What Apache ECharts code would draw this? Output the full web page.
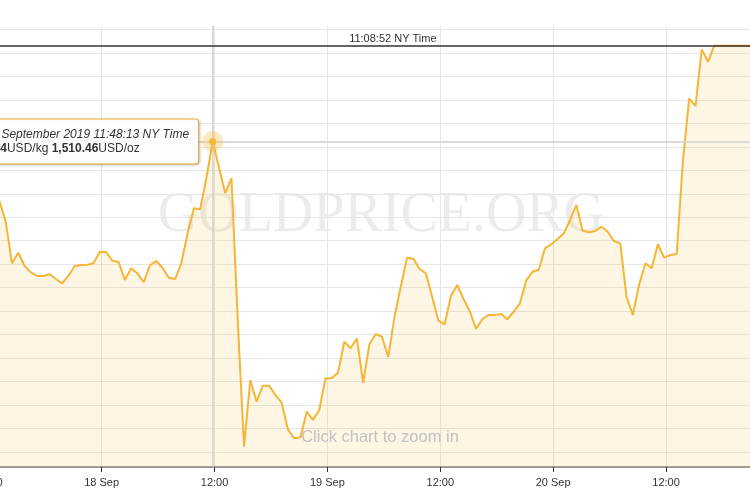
<!DOCTYPE html>
<html><head><meta charset="utf-8">
<script src="https://cdn.jsdelivr.net/npm/echarts@6/dist/echarts.min.js"></script>
<style>html,body{margin:0;padding:0;background:#fff}#c{width:750px;height:500px}</style>
</head><body><div id="c"></div>
<script>
// ---- data ----
const firstTime = '2019-09-17T13:08:00Z';   // time of first sample
const stepMinutes = 40;                      // sampling step
const axisOrigin = '2019-09-18T00:00:00Z';   // hour 0 of the x axis
const prices = [
  1505.39,1503.60,1500.08,1500.98,1499.87,1499.31,1499.00,1499.00,1499.14,1498.74,
  1498.37,1499.00,1499.85,1499.93,1499.96,1500.08,1501.07,1501.04,1500.30,1500.19,
  1498.66,1499.65,1499.23,1498.46,1499.91,1500.27,1499.70,1498.85,1498.74,1500.08,
  1502.63,1504.76,1504.68,1507.35,1510.46,
  1508.28,1506.04,1507.33,1495.25,1484.45,1490.13,1488.29,1489.65,1489.65,1488.86,
  1488.20,1485.93,1485.17,1485.25,1487.43,1486.73,1487.58,1490.28,1490.31,1490.76,
  1493.40,1492.84,1493.69,1489.90,1493.20,1494.05,1493.82,1492.09,1495.53,1498.08,
  1500.56,1500.47,1499.59,1499.23,1497.23,1495.19,1494.88,1497.32,1498.23,1497.04,
  1496.01,1494.48,1495.31,1495.67,1495.67,1495.76,1495.31,1495.95,1496.67,1498.60,
  1499.36,1499.53,1501.36,1501.70,1502.15,1502.63,1503.77,1505.05,1502.86,1502.72,
  1502.83,1503.20,1502.77,1501.98,1501.78,1497.23,1495.67,1498.23,1500.08,1499.65,
  1501.70,1500.56,1500.79,1500.87,1508.88,1514.14,1513.48,1518.31,1517.26,1518.62,
  1518.62,1518.62,1518.62,1518.62,1518.62,1518.62
];
const gridValues = [1484,1486,1488,1490,1492,1494,1496,1498,1500,1502,1504,1506,1508,1510,1512,1514,1516,1518,1520];
const xMinHour = -12, xMaxHour = 72, xStepHours = 12;
const yMin = 1482.72, yMax = 1520.30;
const peakIndex = 34;
const peakDateText = 'Wed, 18 September 2019 11:48:13 NY Time';
const peakKgText = '48,562.44';
const peakOzText = '1,510.46';
const nowText = '11:08:52 NY Time';
const watermarkText = 'GOLDPRICE.ORG';
const hintText = 'Click chart to zoom in';
const monthShort = 'Sep';

// ---- build ----
const t0 = Date.parse(firstTime), origin = Date.parse(axisOrigin);
const hours = prices.map((_, i) => (t0 + i * stepMinutes * 60000 - origin) / 3600000);
const seriesData = prices.map((p, i) => [hours[i], p]);
const peakH = hours[peakIndex], peakV = prices[peakIndex];
const lastV = prices[prices.length - 1];

const FONT = '"Liberation Sans", Arial, sans-serif';
const GOLD = '#F5B535';

const chart = echarts.init(document.getElementById('c'), null, {renderer: 'canvas'});
chart.setOption({
  animation: false,
  backgroundColor: '#fff',
  grid: {left: -11.2, right: -28.9, top: 26, bottom: 33, containLabel: false, outerBoundsMode: 'none'},
  xAxis: {
    type: 'value', min: xMinHour, max: xMaxHour, interval: xStepHours,
    axisLine: {show: true, onZero: false, lineStyle: {color: '#999', width: 2}},
    axisTick: {show: true, length: 5, lineStyle: {color: '#333', width: 1}},
    splitLine: {show: true, lineStyle: {color: '#e6e6e6', width: 1}},
    axisLabel: {
      show: true, showMinLabel: true, showMaxLabel: true, margin: 10, hideOverlap: false,
      color: '#333', fontSize: 11, fontFamily: FONT,
      formatter: function (h) {
        const d = new Date(origin + h * 3600000);
        if (h % 24 === 0) return d.getUTCDate() + ' ' + monthShort;
        return String(d.getUTCHours()).padStart(2, '0') + ':00';
      }
    }
  },
  yAxis: {
    type: 'value', min: yMin, max: yMax,
    axisLine: {show: false}, axisTick: {show: false}, axisLabel: {show: false},
    splitLine: {show: false}
  },
  graphic: [
    {type: 'text', x: 381, y: 216, z: 1, silent: true,
     style: {text: watermarkText, align: 'center', verticalAlign: 'middle',
             font: '56px "Liberation Serif", serif', fill: '#ececec'}},
    {type: 'text', x: 380, y: 437, z: 20, silent: true,
     style: {text: hintText, align: 'center', verticalAlign: 'middle',
             font: '16.5px ' + FONT, fill: '#c2c2c2'}}
  ],
  series: [
    {
      type: 'line', data: [], z: 1, silent: true,
      markLine: {
        silent: true, symbol: 'none', z: 1, animation: false,
        label: {show: false},
        lineStyle: {color: '#e6e6e6', width: 1, type: 'solid'},
        data: gridValues.map(v => ({yAxis: v}))
      }
    },
    {
      type: 'line', data: seriesData, z: 3, symbol: 'none', showSymbol: false,
      lineStyle: {color: GOLD, width: 2},
      areaStyle: {color: 'rgba(245,183,49,0.18)'},
      markLine: {
        silent: true, symbol: 'none', z: 4, animation: false,
        data: [
          {xAxis: peakH, lineStyle: {color: '#cfcfcf', width: 1.5, type: 'solid'}, label: {show: false}},
          {yAxis: peakV, lineStyle: {color: '#cfcfcf', width: 1.5, type: 'solid'}, label: {show: false}},
          {yAxis: lastV, lineStyle: {color: '#333', width: 1.5, type: 'solid'},
           label: {show: true, position: 'middle', formatter: nowText, color: '#333',
                   fontSize: 11, fontFamily: FONT, padding: [0, 0, 0, 18], distance: 1}}
        ]
      },
      markPoint: {
        silent: true, z: 10, animation: false,
        data: [
          {coord: [peakH, peakV], symbol: 'circle', symbolSize: 21,
           itemStyle: {color: 'rgba(245,183,49,0.3)'}, label: {show: false}},
          {coord: [peakH, peakV], symbol: 'circle', symbolSize: 7,
           itemStyle: {color: GOLD},
           label: {
             show: true, position: 'left', distance: 11,
             formatter: '{i|' + peakDateText + '}\n{b|' + peakKgText + '}{n|USD/kg }{b|' + peakOzText + '}{n|USD/oz}',
             backgroundColor: 'rgba(255,255,255,0.96)', borderColor: GOLD, borderWidth: 1, borderRadius: 3,
             padding: [8, 9, 8, 9],
             shadowColor: 'rgba(0,0,0,0.18)', shadowBlur: 3, shadowOffsetX: 1, shadowOffsetY: 1,
             rich: {
               i: {align: 'left', fontStyle: 'italic', fontSize: 12, color: '#333', lineHeight: 14, fontFamily: FONT},
               b: {align: 'left', fontWeight: 'bold', fontSize: 12, color: '#333', lineHeight: 14, fontFamily: FONT},
               n: {align: 'left', fontSize: 12, color: '#333', lineHeight: 14, fontFamily: FONT}
             }
           }}
        ]
      }
    }
  ]
});
</script></body></html>
